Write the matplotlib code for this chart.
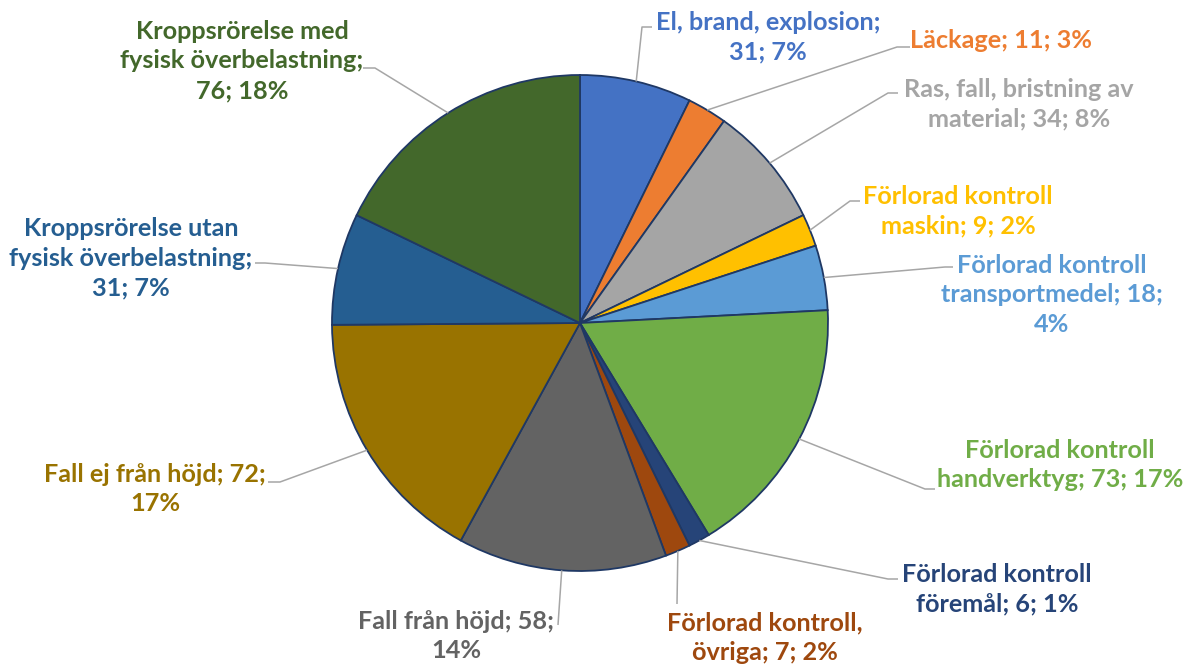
import numpy as np
import matplotlib.pyplot as plt

# Data
categories = [
    "El, brand, explosion",
    "Läckage",
    "Ras, fall, bristning av material",
    "Förlorad kontroll maskin",
    "Förlorad kontroll transportmedel",
    "Förlorad kontroll handverktyg",
    "Förlorad kontroll föremål",
    "Förlorad kontroll, övriga",
    "Fall från höjd",
    "Fall ej från höjd",
    "Kroppsrörelse utan fysisk överbelastning",
    "Kroppsrörelse med fysisk överbelastning",
]
values = [31, 11, 34, 9, 18, 73, 6, 7, 58, 72, 31, 76]
colors = [
    "#4472C4", "#ED7D31", "#A5A5A5", "#FFC000", "#5B9BD5", "#70AD47",
    "#264478", "#9E480E", "#636363", "#997300", "#255E91", "#43682B",
]
# label text broken over lines as in the chart (value/percent appended below)
label_lines = [
    "El, brand, explosion;\n{v}; {p}%",
    "Läckage; {v}; {p}%",
    "Ras, fall, bristning av\nmaterial; {v}; {p}%",
    "Förlorad kontroll\nmaskin; {v}; {p}%",
    "Förlorad kontroll\ntransportmedel; {v};\n{p}%",
    "Förlorad kontroll\nhandverktyg; {v}; {p}%",
    "Förlorad kontroll\nföremål; {v}; {p}%",
    "Förlorad kontroll,\növriga; {v}; {p}%",
    "Fall från höjd; {v};\n{p}%",
    "Fall ej från höjd; {v};\n{p}%",
    "Kroppsrörelse utan\nfysisk överbelastning;\n{v}; {p}%",
    "Kroppsrörelse med\nfysisk överbelastning;\n{v}; {p}%",
]

# Layout (pixels, y measured from top)
W, H = 1188, 671
CX, CY, R = 580, 323, 248
LABEL_POS = [
    (768, 37), (1001, 40), (1019, 104), (958, 211), (1052, 295), (1060, 465),
    (997, 589), (765, 638), (456, 636), (155, 489), (131, 258), (242, 61),
]
# leader elbows: list of points from arc outwards
ELBOWS = [
    [(642, 27), (652, 27)],
    [(897, 47), (910, 47)],
    [(888, 93), (898, 93)],
    [(850, 201), (860, 201)],
    [(945, 267), (953, 267)],
    [(925, 489), (935, 489)],
    [(888, 579), (898, 579)],
    [(677, 604)],
    [(558, 625)],
    [(280, 482), (268, 482)],
    [(265, 263), (255, 263)],
    [(375, 68), (363, 68)],
]

FONT = "Lato"
FONT_SIZE = 18.2
LEADER_COLOR = "#A6A6A6"
EDGE_COLOR = "#1F3864"


def flip(y):
    return H - y


def graph():
    fig = plt.figure(figsize=(W / 100, H / 100), dpi=100)
    ax = fig.add_axes([0, 0, 1, 1])

    ax.pie(
        values,
        colors=colors,
        startangle=90,
        counterclock=False,
        center=(CX, flip(CY)),
        radius=R,
        wedgeprops=dict(edgecolor=EDGE_COLOR, linewidth=1.3),
    )
    ax.set_xlim(0, W)
    ax.set_ylim(0, H)
    ax.set_aspect("auto")
    ax.axis("off")

    total = sum(values)
    cum = np.cumsum(values)
    for i, v in enumerate(values):
        pct = int(round(v / total * 100))
        theta = np.deg2rad((cum[i] - v / 2) / total * 360)
        ax_x = CX + R * np.sin(theta)
        ax_y = CY - R * np.cos(theta)
        pts = [(ax_x, ax_y)] + ELBOWS[i]
        ax.plot(
            [p[0] for p in pts],
            [flip(p[1]) for p in pts],
            color=LEADER_COLOR,
            linewidth=1.1,
            solid_capstyle="butt",
            zorder=1,
        )
        lx, ly = LABEL_POS[i]
        ax.text(
            lx,
            flip(ly),
            label_lines[i].format(v=v, p=pct),
            color=colors[i],
            fontfamily=FONT,
            fontweight="bold",
            fontsize=FONT_SIZE,
            ha="center",
            va="center",
            multialignment="center",
            linespacing=1.36,
        )

    fig.savefig("out.png", dpi=100)


def main():
    graph()


if __name__ == "__main__":
    main()
